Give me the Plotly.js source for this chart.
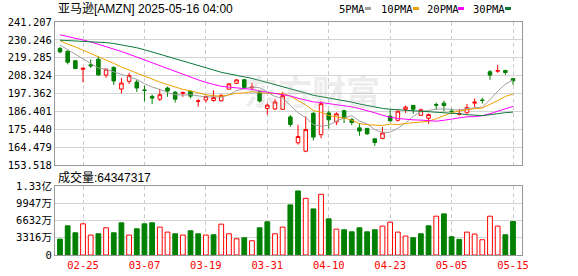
<!DOCTYPE html>
<html>
<head>
<meta charset="utf-8">
<script src="https://cdn.plot.ly/plotly-3.0.1.min.js"></script>
<style>
html,body{margin:0;padding:0;background:#fff;}
#chart{width:578px;height:276px;}
</style>
</head>
<body>
<div id="chart"></div>
<script>
// ---------- data ----------
const dates = ['02-20','02-21','02-24','02-25','02-26','02-27','02-28','03-03','03-04','03-05',
  '03-06','03-07','03-10','03-11','03-12','03-13','03-14','03-17','03-18','03-19',
  '03-20','03-21','03-24','03-25','03-26','03-27','03-28','03-31','04-01','04-02',
  '04-03','04-04','04-07','04-08','04-09','04-10','04-11','04-14','04-15','04-16',
  '04-17','04-21','04-22','04-23','04-24','04-25','04-28','04-29','04-30','05-01',
  '05-02','05-05','05-06','05-07','05-08','05-09','05-12','05-13','05-14','05-15'];

const openP = [225.0,223.3,217.45,212.2,214.94,218.35,208.65,213.35,200.11,204.80,
  204.40,199.49,195.60,193.90,200.72,198.17,197.41,198.77,192.52,193.38,
  193.07,192.90,200.00,203.60,205.84,200.89,198.42,188.19,187.86,187.66,
  183.00,167.15,162.00,185.23,172.12,185.44,179.93,186.84,181.41,176.29,
  176.00,169.60,169.85,183.45,180.92,187.62,190.11,183.99,182.17,190.63,
  191.44,186.51,184.57,185.56,191.43,193.38,210.71,211.08,211.45,206.45];
const highP = [225.9,223.6,217.9,213.34,218.16,219.97,212.62,214.01,206.80,209.98,
  205.77,202.27,196.73,200.18,201.52,198.88,198.65,199.00,194.00,195.97,
  199.32,196.99,203.64,206.21,206.01,203.79,199.26,191.33,193.93,198.34,
  184.13,178.14,183.41,185.90,192.65,186.87,185.86,187.44,182.35,179.10,
  176.21,169.60,176.78,187.38,186.74,189.94,190.22,188.02,185.05,191.81,
  192.88,188.18,187.93,190.99,194.33,194.69,211.66,214.84,211.93,206.88];
const lowP = [222.0,215.2,212.42,204.16,213.09,208.37,206.99,202.55,197.43,203.26,
  198.30,192.53,190.85,192.80,195.29,191.82,195.32,194.32,189.38,191.96,
  192.30,192.52,199.95,203.22,199.93,199.28,191.88,184.40,187.20,187.66,
  176.92,166.00,161.38,168.57,169.93,175.85,178.00,179.23,177.93,171.41,
  172.00,165.29,169.35,180.19,180.18,185.49,184.88,183.68,178.85,187.50,
  186.40,185.53,183.85,185.01,188.82,191.16,205.75,210.10,208.85,202.67];
const closeP = [222.88,216.58,212.71,212.80,214.35,208.74,212.28,205.02,203.80,208.36,
  200.70,199.25,194.54,196.59,198.89,193.89,197.95,195.74,192.82,195.54,
  194.95,196.21,203.26,205.71,201.13,201.36,192.72,190.26,192.17,196.01,
  178.41,171.00,175.26,170.66,191.10,181.22,184.87,182.12,179.59,174.33,
  172.61,167.32,173.18,180.60,186.54,188.99,187.70,187.39,184.42,190.20,
  189.98,186.35,185.01,188.71,192.08,193.06,208.64,211.37,210.25,205.17];
const prevClose = 226.63;

const volume = [30600000,56100000,42700000,59900000,38300000,40800000,52300000,42700000,61900000,38300000,
  50400000,59900000,61900000,53600000,44000000,40800000,38300000,46600000,40800000,38300000,
  38900000,59300000,40800000,31200000,33200000,27400000,52300000,63800000,40800000,53600000,
  96300000,123100000,109000000,88600000,116700000,69500000,49700000,48500000,44600000,52300000,
  44600000,48500000,55500000,63100000,44000000,36300000,33200000,40800000,56100000,74600000,
  79100000,35100000,30000000,44000000,40200000,29300000,74600000,55500000,38900000,64347317];

const ma5 = [227.04,224.28,221.09,218.32,215.86,213.04,212.18,210.64,208.84,207.64,
  206.03,203.43,201.33,199.89,197.99,196.63,196.37,196.61,195.86,195.19,
  195.40,195.05,196.56,199.13,200.25,201.53,200.84,198.24,195.53,194.50,
  189.91,185.57,182.57,178.27,177.29,177.85,180.62,181.99,183.78,180.43,
  178.70,175.19,173.41,173.61,176.05,179.33,183.40,186.24,187.01,187.74,
  187.94,187.67,187.19,188.05,188.43,189.04,193.50,198.77,203.08,205.70];
const ma10 = [229.80,227.58,225.93,223.90,222.06,220.04,218.23,215.86,213.58,211.75,
  209.53,207.80,205.98,204.36,202.82,201.33,199.90,198.97,197.87,196.59,
  196.02,195.71,196.58,197.50,197.72,198.47,197.94,197.40,197.33,197.38,
  195.72,193.20,190.40,186.90,185.90,183.88,183.10,182.28,181.02,178.86,
  178.28,177.91,177.70,178.69,178.24,179.02,179.30,179.83,180.31,181.90,
  183.63,185.54,186.72,187.53,188.08,188.49,190.58,192.98,195.57,197.06];
const ma20 = [233.35,232.40,231.30,230.17,228.98,227.56,226.44,224.81,223.13,221.44,
  219.67,217.69,215.96,214.13,212.44,210.69,209.06,207.42,205.73,204.17,
  202.78,201.76,201.28,200.93,200.27,199.90,198.92,198.18,197.60,196.98,
  195.87,194.46,193.49,192.20,191.81,191.17,190.52,189.84,189.18,188.12,
  187.00,185.56,184.05,182.80,182.07,181.45,181.20,181.05,180.67,180.38,
  180.95,181.72,182.21,183.11,183.16,183.75,184.94,186.40,187.94,189.48];
const ma30 = [230.07,229.88,229.57,229.36,229.23,228.93,228.56,228.03,227.30,226.55,
  225.41,224.20,222.86,221.56,220.26,218.82,217.59,216.20,214.71,213.16,
  211.78,210.36,209.50,208.59,207.53,206.61,205.36,204.08,202.93,201.91,
  200.42,198.91,197.66,196.25,195.48,194.56,193.65,192.88,192.08,190.94,
  190.01,188.94,188.23,187.70,187.28,187.12,186.78,186.50,186.22,186.04,
  185.88,185.55,184.94,184.37,184.07,183.80,184.33,185.03,185.63,185.94];

const tickDates = ['02-25','03-07','03-19','03-31','04-10','04-23','05-05','05-15'];
const priceTicks = [153.518,164.479,175.440,186.401,197.362,208.324,219.285,230.246,241.207];
const volTicks = [0,33160000,66320000,99470000,132630000];
const volTickLabels = ['0','3316万','6632万','9947万','1.33亿'];
const maNames = ['5PMA','10PMA','20PMA','30PMA'];
const maColors = ['#a0a0a0','#f0a000','#ff00ff','#0b7a3a'];
const titleText = '亚马逊[AMZN] 2025-05-16 04:00';
const volLabel = '成交量';
const watermark = '东方财富';

// ---------- geometry helpers (pixel -> paper) ----------
const W = 578, H = 276;
const M = {l:55, r:56, t:22, b:21};
const PW = W - M.l - M.r, PH = H - M.t - M.b;
const px = v => (v - M.l) / PW;
const py = v => (H - M.b - v) / PH;

const idx = dates.map((d,i)=>i);
const tickIdx = tickDates.map(d => dates.indexOf(d));
const xRange = [-0.65, 60.17];

const monoFont = 'DejaVu Sans Mono, Noto Sans CJK SC, monospace';
const textFont = 'Liberation Sans, Noto Sans CJK SC, sans-serif';

const upDay = closeP.map((c,i) => c >= (i === 0 ? prevClose : closeP[i-1]));

const traces = [];
traces.push({
  type:'candlestick', x: idx, open: openP, high: highP, low: lowP, close: closeP,
  xaxis:'x', yaxis:'y', whiskerwidth: 0,
  increasing:{line:{color:'#ff0000', width:1}, fillcolor:'#ffffff'},
  decreasing:{line:{color:'#008000', width:1}, fillcolor:'#008000'},
  showlegend:false, hoverinfo:'skip'
});
[ma5, ma10, ma20, ma30].forEach((arr,k) => {
  traces.push({type:'scatter', mode:'lines', x: idx, y: arr, xaxis:'x', yaxis:'y',
    line:{color: maColors[k], width:1}, showlegend:false, hoverinfo:'skip', name: maNames[k]});
});
traces.push({
  type:'bar', x: idx, y: volume, xaxis:'x2', yaxis:'y2', width:0.62,
  marker:{color: upDay.map(u => u ? '#ffffff' : '#008000'),
          line:{color: upDay.map(u => u ? '#ff0000' : '#008000'), width:1}},
  showlegend:false, hoverinfo:'skip'
});

const yMainDomain = [py(165), 1];
const yVolDomain = [0, py(186)];

const annotations = [];
annotations.push({xref:'paper', yref:'paper', x: px(56), y: py(9), xanchor:'left', yanchor:'middle',
  text: titleText, showarrow:false, font:{family: textFont, size:12, color:'#000'}});
annotations.push({xref:'paper', yref:'paper', x: px(56), y: py(177.5), xanchor:'left', yanchor:'middle',
  text: volLabel + ':' + volume[volume.length-1], showarrow:false, font:{family: textFont, size:12, color:'#000'}});
annotations.push({xref:'paper', yref:'paper', x: px(312), y: py(90), xanchor:'center', yanchor:'middle',
  text: '<b>' + watermark + '</b>', showarrow:false,
  font:{family:'Noto Sans CJK SC', size:34, color:'rgba(170,170,170,0.22)'}});

const legendX = [337, 379, 425, 471];
const swatchX = [365, 413, 458, 505];
const shapes = [];
maNames.forEach((n,k) => {
  annotations.push({xref:'paper', yref:'paper', x: px(legendX[k]), y: py(8.5), xanchor:'left', yanchor:'middle',
    text: n, showarrow:false, font:{family: monoFont, size:10.5, color:'#000'}});
  shapes.push({type:'rect', xref:'paper', yref:'paper', x0: px(swatchX[k]), x1: px(swatchX[k]+6),
    y0: py(10), y1: py(7), fillcolor: maColors[k], line:{width:0}});
});

const layout = {
  width: W, height: H, margin: M,
  paper_bgcolor:'#ffffff', plot_bgcolor:'#ffffff',
  showlegend:false, boxgap:0.34, bargap:0,
  xaxis:{domain:[0,1], anchor:'y', range: xRange, tickmode:'array', tickvals: tickIdx,
    showticklabels:false, ticks:'', showgrid:true, gridcolor:'#cccccc', griddash:'4px,3px', gridwidth:1,
    zeroline:false, showline:true, mirror:true, linecolor:'#999999', linewidth:1,
    rangeslider:{visible:false}, fixedrange:true},
  yaxis:{domain: yMainDomain, anchor:'x', range:[priceTicks[0], priceTicks[priceTicks.length-1]],
    tickmode:'array', tickvals: priceTicks, ticktext: priceTicks.map(v => v.toFixed(3)),
    showgrid:true, gridcolor:'#d4d4d4', gridwidth:1, zeroline:false, ticks:'',
    showline:true, mirror:true, linecolor:'#999999', linewidth:1,
    tickfont:{family: monoFont, size:10.5, color:'#000'}, fixedrange:true},
  xaxis2:{domain:[0,1], anchor:'y2', range: xRange, tickmode:'array', tickvals: tickIdx, ticktext: tickDates,
    showgrid:true, gridcolor:'#cccccc', griddash:'4px,3px', gridwidth:1, ticks:'',
    zeroline:false, showline:true, mirror:true, linecolor:'#999999', linewidth:1,
    tickfont:{family: monoFont, size:10.5, color:'#ff0000'}, fixedrange:true},
  yaxis2:{domain: yVolDomain, anchor:'x2', range:[0, volTicks[volTicks.length-1]],
    tickmode:'array', tickvals: volTicks, ticktext: volTickLabels,
    showgrid:true, gridcolor:'#d4d4d4', gridwidth:1, zeroline:false, ticks:'',
    showline:true, mirror:true, linecolor:'#999999', linewidth:1,
    tickfont:{family: monoFont, size:10.5, color:'#000'}, fixedrange:true},
  annotations: annotations,
  shapes: shapes
};

Plotly.newPlot('chart', traces, layout, {staticPlot:true, displayModeBar:false});
</script>
</body>
</html>
